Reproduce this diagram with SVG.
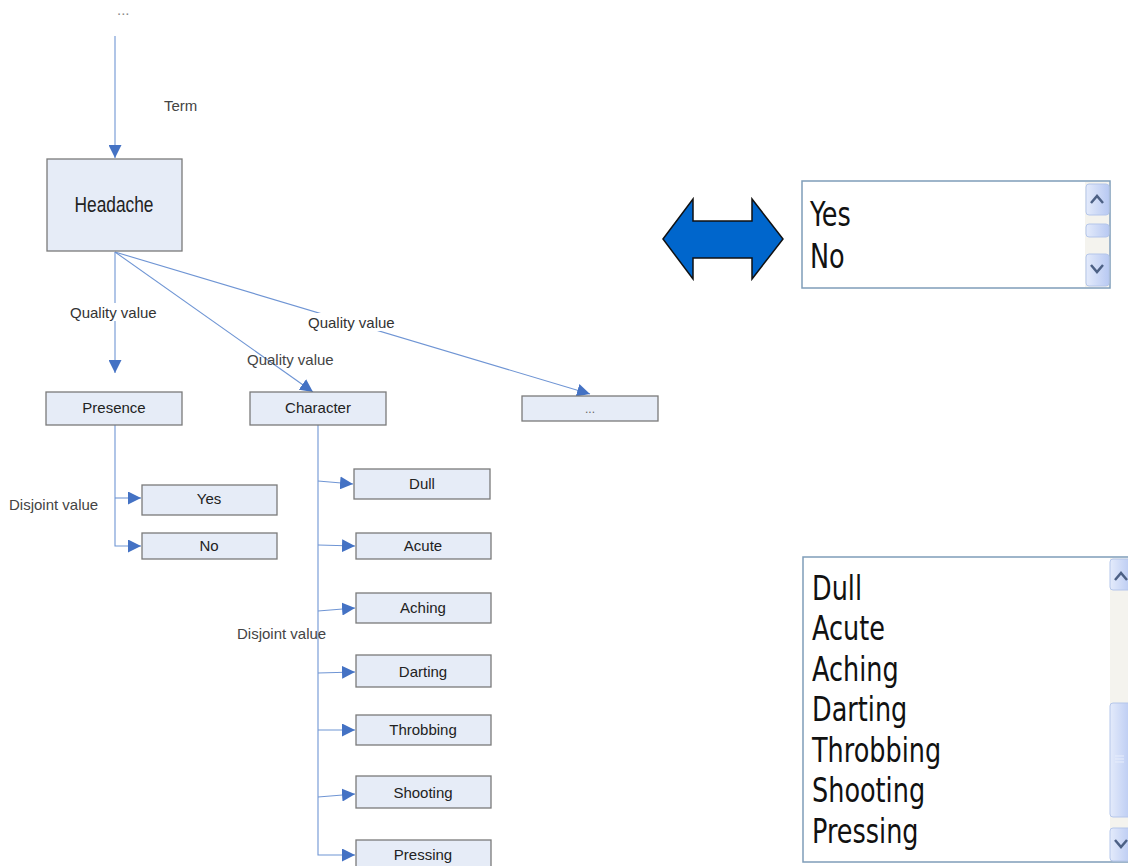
<svg xmlns="http://www.w3.org/2000/svg" width="1128" height="866" viewBox="0 0 1128 866">
  <defs>
    <marker id="arr" viewBox="0 0 10 10" refX="10" refY="5" markerWidth="13" markerHeight="13" markerUnits="userSpaceOnUse" orient="auto">
      <path d="M0,0 L10,5 L0,10 Z" fill="#4472c4"/>
    </marker>
    <linearGradient id="btn" x1="0" y1="0" x2="1" y2="0">
      <stop offset="0" stop-color="#e4ebfb"/>
      <stop offset="1" stop-color="#b8c9f2"/>
    </linearGradient>
  </defs>
  <style>
    .box { fill: #e6ecf7; stroke: #7a7a7a; stroke-width: 1.3; }
    .lbl { font-family: "Liberation Sans", Arial, sans-serif; font-size: 15px; fill: #222; text-anchor: middle; }
    .edge { font-family: "Liberation Sans", Arial, sans-serif; font-size: 15px; fill: #333; }
    .con { stroke: #6f95d4; stroke-width: 1.1; fill: none; }
    .lst { font-family: "DejaVu Sans Condensed", "Liberation Sans", sans-serif; font-size: 33px; fill: #111; }
    .frame { fill: #fff; stroke: #7f9db9; stroke-width: 1.5; }
    .sbtn { fill: url(#btn); stroke: #b5c6ea; stroke-width: 1; }
    .chev { fill: none; stroke: #4d6185; stroke-width: 2.5; }
  </style>

  <rect width="1128" height="866" fill="#fff"/>

  <!-- connectors -->
  <g id="connectors">
    <line class="con" x1="115" y1="36" x2="115" y2="158" marker-end="url(#arr)"/>
    <line class="con" x1="115" y1="252" x2="115" y2="373" marker-end="url(#arr)"/>
    <line class="con" x1="115" y1="252" x2="313" y2="392" marker-end="url(#arr)"/>
    <line class="con" x1="115" y1="252" x2="590" y2="394" marker-end="url(#arr)"/>
    <!-- presence branch -->
    <polyline class="con" points="115,425 115,546 141,546" marker-end="url(#arr)"/>
    <line class="con" x1="115" y1="498" x2="141" y2="498" marker-end="url(#arr)"/>
    <!-- character branch -->
    <polyline class="con" points="318,425 318,855 355,855" marker-end="url(#arr)"/>
    <line class="con" x1="318" y1="481" x2="353" y2="484" marker-end="url(#arr)"/>
    <line class="con" x1="318" y1="545" x2="355" y2="546" marker-end="url(#arr)"/>
    <line class="con" x1="318" y1="611" x2="355" y2="608" marker-end="url(#arr)"/>
    <line class="con" x1="318" y1="673" x2="355" y2="672" marker-end="url(#arr)"/>
    <line class="con" x1="318" y1="730" x2="355" y2="730" marker-end="url(#arr)"/>
    <line class="con" x1="318" y1="797" x2="355" y2="794" marker-end="url(#arr)"/>

    <!-- edge labels -->
    <text class="edge" x="117" y="15" style="fill:#888">...</text>
    <text class="edge" x="164" y="111" style="fill:#444">Term</text>
    <rect x="68" y="303" width="92" height="18" fill="#fff"/>
    <text class="edge" x="70" y="318">Quality value</text>
    <rect x="306" y="313" width="92" height="18" fill="#fff"/>
    <text class="edge" x="308" y="328">Quality value</text>
    <text class="edge" x="247" y="365" style="fill:#444">Quality value</text>
    <text class="edge" x="9" y="510" style="fill:#444">Disjoint value</text>
    <text class="edge" x="237" y="639" style="fill:#444">Disjoint value</text>
  </g>

  <!-- nodes -->
  <g id="n-headache">
    <rect class="box" x="47" y="159" width="135" height="92"/>
    <text class="lbl" x="114" y="212" style="font-size:22px" textLength="79" lengthAdjust="spacingAndGlyphs">Headache</text>
  </g>
  <g id="n-presence">
    <rect class="box" x="46" y="392" width="136" height="33"/>
    <text class="lbl" x="114" y="413">Presence</text>
  </g>
  <g id="n-character">
    <rect class="box" x="250" y="392" width="136" height="33"/>
    <text class="lbl" x="318" y="413">Character</text>
  </g>
  <g id="n-more">
    <rect class="box" x="522" y="396" width="136" height="25"/>
    <text class="lbl" x="590" y="413" style="fill:#666;font-size:12px">...</text>
  </g>
  <g id="n-yes">
    <rect class="box" x="142" y="485" width="135" height="30"/>
    <text class="lbl" x="209" y="504">Yes</text>
  </g>
  <g id="n-no">
    <rect class="box" x="142" y="533" width="135" height="26"/>
    <text class="lbl" x="209" y="551">No</text>
  </g>
  <g id="n-dull">
    <rect class="box" x="354" y="469" width="136" height="30"/>
    <text class="lbl" x="422" y="489">Dull</text>
  </g>
  <g id="n-acute">
    <rect class="box" x="356" y="533" width="135" height="26"/>
    <text class="lbl" x="423" y="551">Acute</text>
  </g>
  <g id="n-aching">
    <rect class="box" x="356" y="593" width="135" height="30"/>
    <text class="lbl" x="423" y="613">Aching</text>
  </g>
  <g id="n-darting">
    <rect class="box" x="356" y="655" width="135" height="32"/>
    <text class="lbl" x="423" y="677">Darting</text>
  </g>
  <g id="n-throbbing">
    <rect class="box" x="356" y="715" width="135" height="30"/>
    <text class="lbl" x="423" y="735">Throbbing</text>
  </g>
  <g id="n-shooting">
    <rect class="box" x="356" y="776" width="135" height="32"/>
    <text class="lbl" x="423" y="798">Shooting</text>
  </g>
  <g id="n-pressing">
    <rect class="box" x="356" y="840" width="135" height="30"/>
    <text class="lbl" x="423" y="860">Pressing</text>
  </g>

  <!-- double-headed block arrow -->
  <g id="double-arrow">
    <path d="M663,239 L693,199 L693,221 L752,221 L752,199 L783,239 L752,279 L752,258 L693,258 L693,279 Z" fill="#0066cc" stroke="#111" stroke-width="1.5" stroke-linejoin="miter"/>
  </g>

  <!-- small list box -->
  <g id="listbox-presence">
    <rect class="frame" x="802" y="181" width="308" height="107"/>
    <rect x="1085" y="182" width="24" height="105" fill="#f4f3ee"/>
    <rect class="sbtn" x="1086" y="184" width="23" height="31" rx="3"/>
    <path class="chev" d="M1091,203 L1097,196 L1103,203"/>
    <rect class="sbtn" x="1086" y="224" width="23" height="13" rx="3"/>
    <rect class="sbtn" x="1086" y="254" width="23" height="32" rx="3"/>
    <path class="chev" d="M1091,265 L1097,272 L1103,265"/>
    <g transform="translate(810,0) scale(0.86,1)">
      <text class="lst" x="0" y="226">Yes</text>
      <text class="lst" x="0" y="268">No</text>
    </g>
  </g>

  <!-- large list box -->
  <g id="listbox-character">
    <rect class="frame" x="803" y="557" width="330" height="305"/>
    <rect x="1110" y="558" width="20" height="303" fill="#f4f3ee"/>
    <rect class="sbtn" x="1110" y="559" width="22" height="31" rx="3"/>
    <path class="chev" d="M1115,580 L1121,573 L1127,580"/>
    <rect class="sbtn" x="1110" y="703" width="22" height="114" rx="3"/>
    <path d="M1115,756 H1124 M1115,759 H1124 M1115,762 H1124" stroke="#e8eefc" stroke-width="1"/>
    <rect class="sbtn" x="1110" y="828" width="22" height="33" rx="3"/>
    <path class="chev" d="M1115,840 L1121,847 L1127,840"/>
    <g transform="translate(812,0) scale(0.86,1)">
      <text class="lst" x="0" y="600">Dull</text>
      <text class="lst" x="0" y="640">Acute</text>
      <text class="lst" x="0" y="681">Aching</text>
      <text class="lst" x="0" y="721">Darting</text>
      <text class="lst" x="0" y="762">Throbbing</text>
      <text class="lst" x="0" y="802">Shooting</text>
      <text class="lst" x="0" y="843">Pressing</text>
    </g>
  </g>
</svg>
